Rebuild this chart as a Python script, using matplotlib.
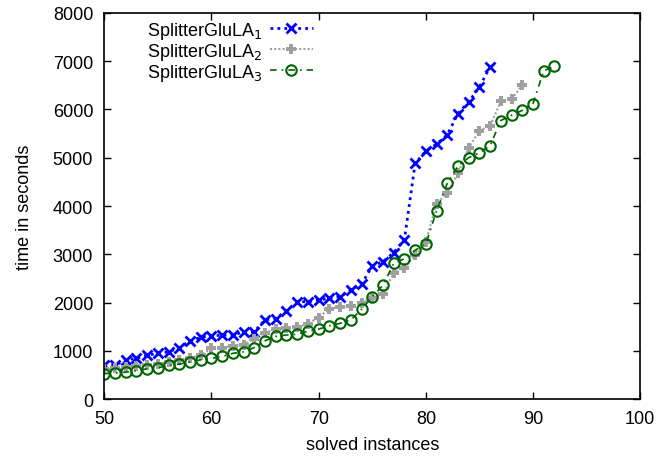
import matplotlib.pyplot as plt

plt.rcParams['font.family'] = ['Liberation Sans', 'DejaVu Sans']

# solved instances (x) and runtimes in seconds for each configuration
x1 = list(range(50, 87))
t1 = [700, 700, 815, 845, 910, 950, 980, 1070, 1210, 1280,
      1310, 1325, 1325, 1395, 1400, 1645, 1670, 1830, 2020, 2015,
      2055, 2085, 2125, 2255, 2380, 2760, 2850, 3035, 3300, 4880,
      5140, 5280, 5475, 5915, 6155, 6465, 6885]

x2 = list(range(50, 90))
t2 = [620, 640, 660, 680, 700, 730, 770, 810, 860, 910,
      1050, 1070, 1100, 1125, 1255, 1380, 1450, 1465, 1485, 1565,
      1690, 1875, 1900, 1920, 2000, 2100, 2175, 2610, 2720, 2980,
      3260, 4050, 4265, 4680, 5200, 5560, 5660, 6165, 6210, 6505]

x3 = list(range(50, 93))
t3 = [530, 540, 560, 590, 630, 650, 700, 725, 775, 815,
      845, 885, 950, 980, 1070, 1210, 1300, 1330, 1345, 1410,
      1450, 1520, 1570, 1640, 1860, 2120, 2360, 2810, 2910, 3085,
      3210, 3900, 4470, 4830, 5000, 5100, 5250, 5770, 5880, 5980,
      6120, 6800, 6890]

labels = ['SplitterGluLA$_1$', 'SplitterGluLA$_2$', 'SplitterGluLA$_3$']
x_ticks = [50, 60, 70, 80, 90, 100]
y_ticks = [0, 1000, 2000, 3000, 4000, 5000, 6000, 7000, 8000]

fig = plt.figure(figsize=(6.6, 4.6), dpi=100)
ax = fig.add_axes([0.158, 0.130, 0.812, 0.840])

ax.plot(x1, t1, color='#0000ff', linestyle=(0, (1, 1.5)), linewidth=2,
        marker='x', markersize=7, markeredgewidth=2, label=labels[0])
ax.plot(x2, t2, color='#a0a0a0', linestyle=(0, (1, 1)), linewidth=1.5,
        marker='P', markersize=7, markeredgewidth=0, label=labels[1])
ax.plot(x3, t3, color='#006400', linestyle=(0, (4, 3, 1, 3)), linewidth=1.2,
        marker='o', markersize=7.5, markerfacecolor='none', markeredgewidth=1.5,
        label=labels[2])

ax.set_xlim(50, 100)
ax.set_ylim(0, 8000)
ax.set_xticks(x_ticks)
ax.set_yticks(y_ticks)
ax.tick_params(direction='in', top=True, right=True, length=5, width=1,
               labelsize=13, pad=8)
for s in ax.spines.values():
    s.set_linewidth(1.2)

ax.set_xlabel('solved instances', fontsize=13, labelpad=6)
ax.set_ylabel('time in seconds', fontsize=13, labelpad=14)

ax.legend(loc='upper left', bbox_to_anchor=(0.06, 1.01), frameon=False,
          markerfirst=False, fontsize=13, handlelength=2.4,
          labelspacing=0.0, handletextpad=0.4, borderaxespad=0.2)

fig.savefig('out.png', dpi=100)
